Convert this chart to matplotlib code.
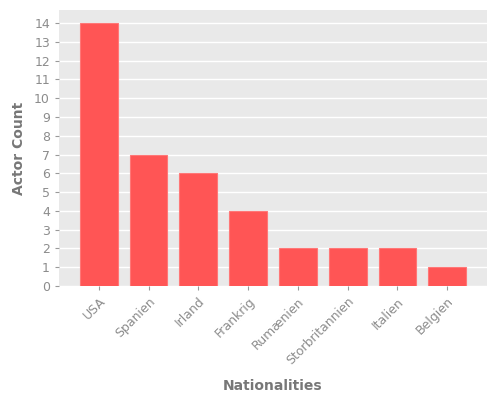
import matplotlib
matplotlib.use("Agg")
import matplotlib.pyplot as plt

categories = ["USA", "Spanien", "Irland", "Frankrig", "Rumænien", "Storbritannien", "Italien", "Belgien"]
counts = [14, 7, 6, 4, 2, 2, 2, 1]

fig = plt.figure(figsize=(5, 4), dpi=100)
ax = fig.add_axes([59/500, 1-286/400, (487-59)/500, (286-10)/400])
ax.set_facecolor("#E9E9E9")
ax.set_axisbelow(True)
ax.grid(axis="y", color="white", linewidth=1)
x = range(len(categories))
ax.bar(x, counts, width=0.76, color="#FF5555", edgecolor="#FF7777", linewidth=0.8)
ax.set_xlim(-0.8, len(categories) - 0.2)
ax.set_ylim(0, 14.7)
ax.set_yticks(range(0, 15))
ax.set_xticks(list(x))
ax.set_xticklabels(categories, rotation=45, ha="right", rotation_mode="anchor")
for s in ax.spines.values():
    s.set_visible(False)
ax.tick_params(colors="#999999", labelcolor="#8C8C8C", labelsize=9, length=3)
ax.set_ylabel("Actor Count", color="#777777", fontsize=10, fontweight="bold", labelpad=6)
ax.set_xlabel("Nationalities", color="#777777", fontsize=10, fontweight="bold", labelpad=8)
fig.savefig("out.png", dpi=100)
